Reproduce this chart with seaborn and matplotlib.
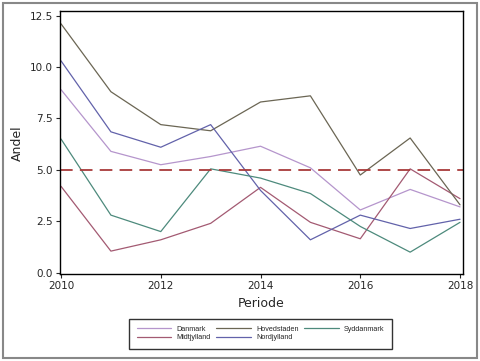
import pandas as pd
import matplotlib.pyplot as plt
import seaborn as sns
from matplotlib.patches import Rectangle

# data
years = [2010, 2011, 2012, 2013, 2014, 2015, 2016, 2017, 2018]
danmark = [8.9, 5.9, 5.25, 5.65, 6.15, 5.1, 3.05, 4.05, 3.2]
hovedstaden = [12.1, 8.8, 7.2, 6.9, 8.3, 8.6, 4.75, 6.55, 3.3]
syddanmark = [6.5, 2.8, 2.0, 5.05, 4.6, 3.85, 2.25, 1.0, 2.45]
midtjylland = [4.2, 1.05, 1.6, 2.4, 4.15, 2.45, 1.65, 5.05, 3.6]
nordjylland = [10.3, 6.85, 6.1, 7.2, 4.0, 1.6, 2.8, 2.15, 2.6]
threshold = 5.0

series = {
    'Danmark': danmark,
    'Hovedstaden': hovedstaden,
    'Syddanmark': syddanmark,
    'Midtjylland': midtjylland,
    'Nordjylland': nordjylland,
}
rows = []
for name, vals in series.items():
    for yr, v in zip(years, vals):
        rows.append({'Periode': yr, 'Andel': v, 'Region': name})
df = pd.DataFrame(rows)

palette = {
    'Danmark': '#b595cc',
    'Hovedstaden': '#6b6654',
    'Syddanmark': '#4d8a7c',
    'Midtjylland': '#a35a72',
    'Nordjylland': '#6262aa',
}
# column-major legend -> rows: Danmark/Hovedstaden/Syddanmark, Midtjylland/Nordjylland
order = ['Danmark', 'Midtjylland', 'Hovedstaden', 'Nordjylland', 'Syddanmark']

sns.set_style("ticks")
plt.rcParams['font.family'] = ['DejaVu Sans']

fig = plt.figure(figsize=(4.8, 3.61), dpi=100)
ax = fig.add_axes([0.124, 0.240, 0.8396, 0.7293])

sns.lineplot(data=df, x='Periode', y='Andel', hue='Region', hue_order=order,
             palette=palette, linewidth=0.9, ax=ax, legend=False)
ax.axhline(threshold, color='#a83a3a', linestyle=(0, (7, 4)), linewidth=1.3)

ax.set_xlim(2009.97, 2018.05)
ax.set_ylim(-0.08, 12.72)
ax.set_xticks([2010, 2012, 2014, 2016, 2018])
ax.set_yticks([0, 2.5, 5, 7.5, 10, 12.5])
ax.set_yticklabels(['0.0', '2.5', '5.0', '7.5', '10.0', '12.5'])
ax.tick_params(labelsize=7.5, length=3, width=0.8, pad=2)
for s in ax.spines.values():
    s.set_visible(True)
    s.set_linewidth(1.0)
    s.set_color('black')
ax.set_xlabel('Periode', fontsize=9, labelpad=4)
ax.set_ylabel('Andel', fontsize=9, labelpad=4)

handles = [plt.Line2D([], [], color=palette[n], linewidth=0.9) for n in order]
leg = fig.legend(handles, order, ncol=3, loc='center',
                 bbox_to_anchor=(0.543, 0.076),
                 prop={'family': 'Liberation Sans', 'size': 5.2},
                 frameon=True, fancybox=False, edgecolor='black',
                 handlelength=4.8, handletextpad=0.7, columnspacing=0.8,
                 labelspacing=0.2, borderpad=1.0)
leg.get_frame().set_linewidth(1.0)

fig.patches.append(Rectangle((0.006, 0.008), 0.988, 0.984, transform=fig.transFigure,
                             fill=False, edgecolor='#888888', linewidth=1.5))

fig.savefig('out.png', dpi=100)
